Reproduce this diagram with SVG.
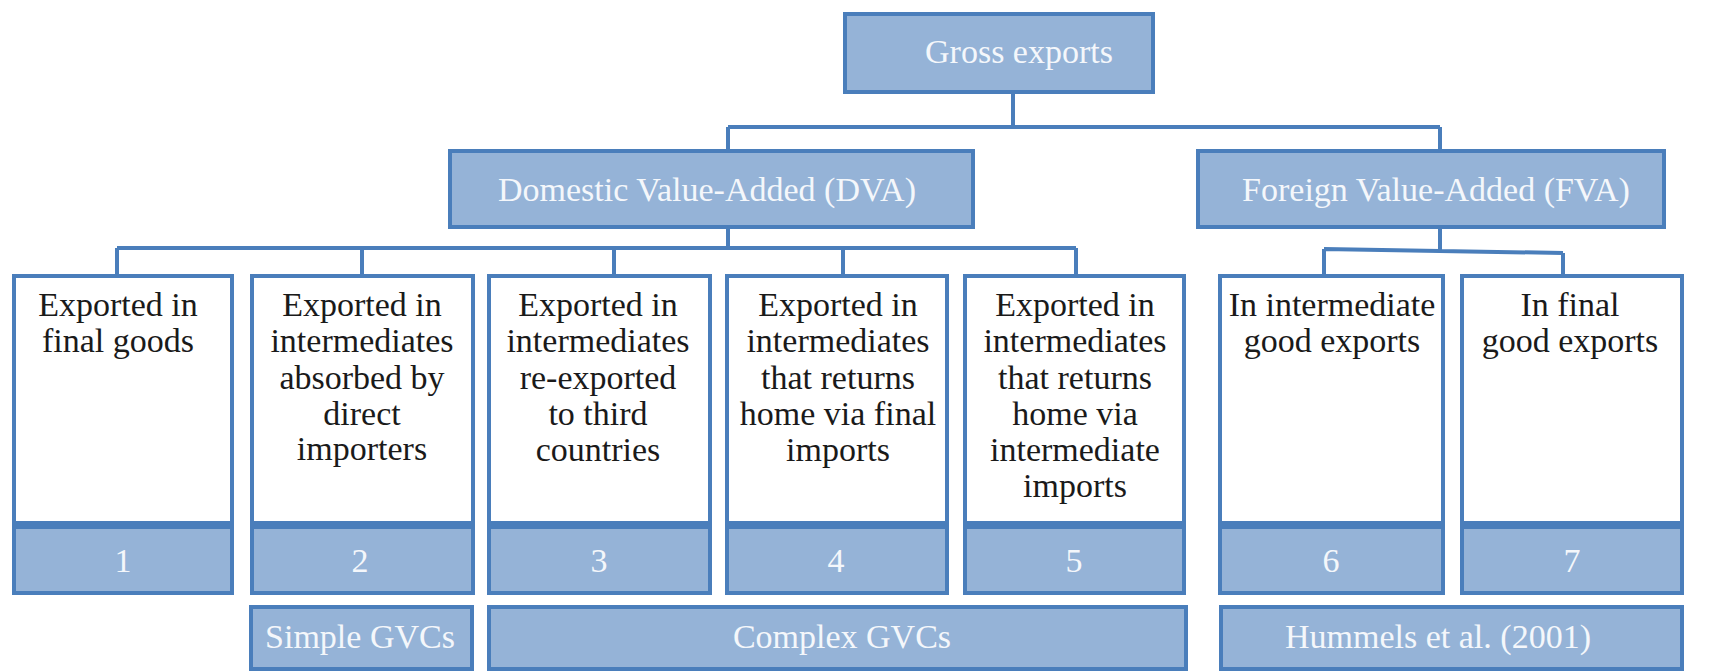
<svg xmlns="http://www.w3.org/2000/svg" width="1723" height="671" viewBox="0 0 1723 671">
<style>
.blue{fill:#95b3d7;stroke:#4a7ebb;stroke-width:4}
.white{fill:#ffffff;stroke:#4a7ebb;stroke-width:4}
.conn{fill:none;stroke:#4a7ebb;stroke-width:4}
.t{font-family:"Liberation Serif","Times New Roman",serif;font-size:34px;text-anchor:middle}
.lt{fill:#f4f7fb}
.dk{fill:#1a1a1a}
</style>
<rect width="1723" height="671" fill="#ffffff"/>
<g id="connectors">
<path class="conn" d="M1013 92 V127 M728 127 H1440 M728 127 V150 M1440 127 V150"/>
<path class="conn" d="M728 227 V248 M117 248 H1076 M117 248 V276 M362 248 V276 M614 248 V276 M843 248 V276 M1076 248 V276"/>
<path class="conn" d="M1440 227 V250 M1324 249 L1563 253 M1324 249 V276 M1563 253 V276"/>
</g>
<g id="gross">
<rect class="blue" x="845" y="14" width="308" height="78"/>
<text class="t lt" x="1019" y="63">Gross exports</text>
</g>
<g id="dva">
<rect class="blue" x="450" y="151" width="523" height="76"/>
<text class="t lt" x="707" y="201">Domestic Value-Added (DVA)</text>
</g>
<g id="fva">
<rect class="blue" x="1198" y="151" width="466" height="76"/>
<text class="t lt" x="1436" y="201">Foreign Value-Added (FVA)</text>
</g>
<g id="box1">
<rect class="white" x="14" y="276" width="218" height="247"/>
<text class="t dk"><tspan x="118" y="316">Exported in</tspan><tspan x="118" y="352">final goods</tspan></text>
</g>
<g id="box2">
<rect class="white" x="252" y="276" width="221" height="247"/>
<text class="t dk"><tspan x="362" y="316">Exported in</tspan><tspan x="362" y="352">intermediates</tspan><tspan x="362" y="389">absorbed by</tspan><tspan x="362" y="425">direct</tspan><tspan x="362" y="460">importers</tspan></text>
</g>
<g id="box3">
<rect class="white" x="489" y="276" width="221" height="247"/>
<text class="t dk"><tspan x="598" y="316">Exported in</tspan><tspan x="598" y="352">intermediates</tspan><tspan x="598" y="389">re-exported</tspan><tspan x="598" y="425">to third</tspan><tspan x="598" y="461">countries</tspan></text>
</g>
<g id="box4">
<rect class="white" x="727" y="276" width="220" height="247"/>
<text class="t dk"><tspan x="838" y="316">Exported in</tspan><tspan x="838" y="352">intermediates</tspan><tspan x="838" y="389">that returns</tspan><tspan x="838" y="425">home via final</tspan><tspan x="838" y="461">imports</tspan></text>
</g>
<g id="box5">
<rect class="white" x="965" y="276" width="219" height="247"/>
<text class="t dk"><tspan x="1075" y="316">Exported in</tspan><tspan x="1075" y="352">intermediates</tspan><tspan x="1075" y="389">that returns</tspan><tspan x="1075" y="425">home via</tspan><tspan x="1075" y="461">intermediate</tspan><tspan x="1075" y="497">imports</tspan></text>
</g>
<g id="box6">
<rect class="white" x="1220" y="276" width="223" height="247"/>
<text class="t dk"><tspan x="1332" y="316">In intermediate</tspan><tspan x="1332" y="352">good exports</tspan></text>
</g>
<g id="box7">
<rect class="white" x="1462" y="276" width="220" height="247"/>
<text class="t dk"><tspan x="1570" y="316">In final</tspan><tspan x="1570" y="352">good exports</tspan></text>
</g>
<g id="n1"><rect class="blue" x="14" y="527" width="218" height="66"/><text class="t lt" x="123" y="572">1</text></g>
<g id="n2"><rect class="blue" x="252" y="527" width="221" height="66"/><text class="t lt" x="360" y="572">2</text></g>
<g id="n3"><rect class="blue" x="489" y="527" width="221" height="66"/><text class="t lt" x="599" y="572">3</text></g>
<g id="n4"><rect class="blue" x="727" y="527" width="220" height="66"/><text class="t lt" x="836" y="572">4</text></g>
<g id="n5"><rect class="blue" x="965" y="527" width="219" height="66"/><text class="t lt" x="1074" y="572">5</text></g>
<g id="n6"><rect class="blue" x="1220" y="527" width="223" height="66"/><text class="t lt" x="1331" y="572">6</text></g>
<g id="n7"><rect class="blue" x="1462" y="527" width="220" height="66"/><text class="t lt" x="1572" y="572">7</text></g>
<g id="simple"><rect class="blue" x="251" y="607" width="221" height="62"/><text class="t lt" x="360" y="648">Simple GVCs</text></g>
<g id="complex"><rect class="blue" x="489" y="607" width="697" height="62"/><text class="t lt" x="842" y="648">Complex GVCs</text></g>
<g id="hummels"><rect class="blue" x="1221" y="607" width="461" height="62"/><text class="t lt" x="1438" y="648">Hummels et al. (2001)</text></g>
</svg>
